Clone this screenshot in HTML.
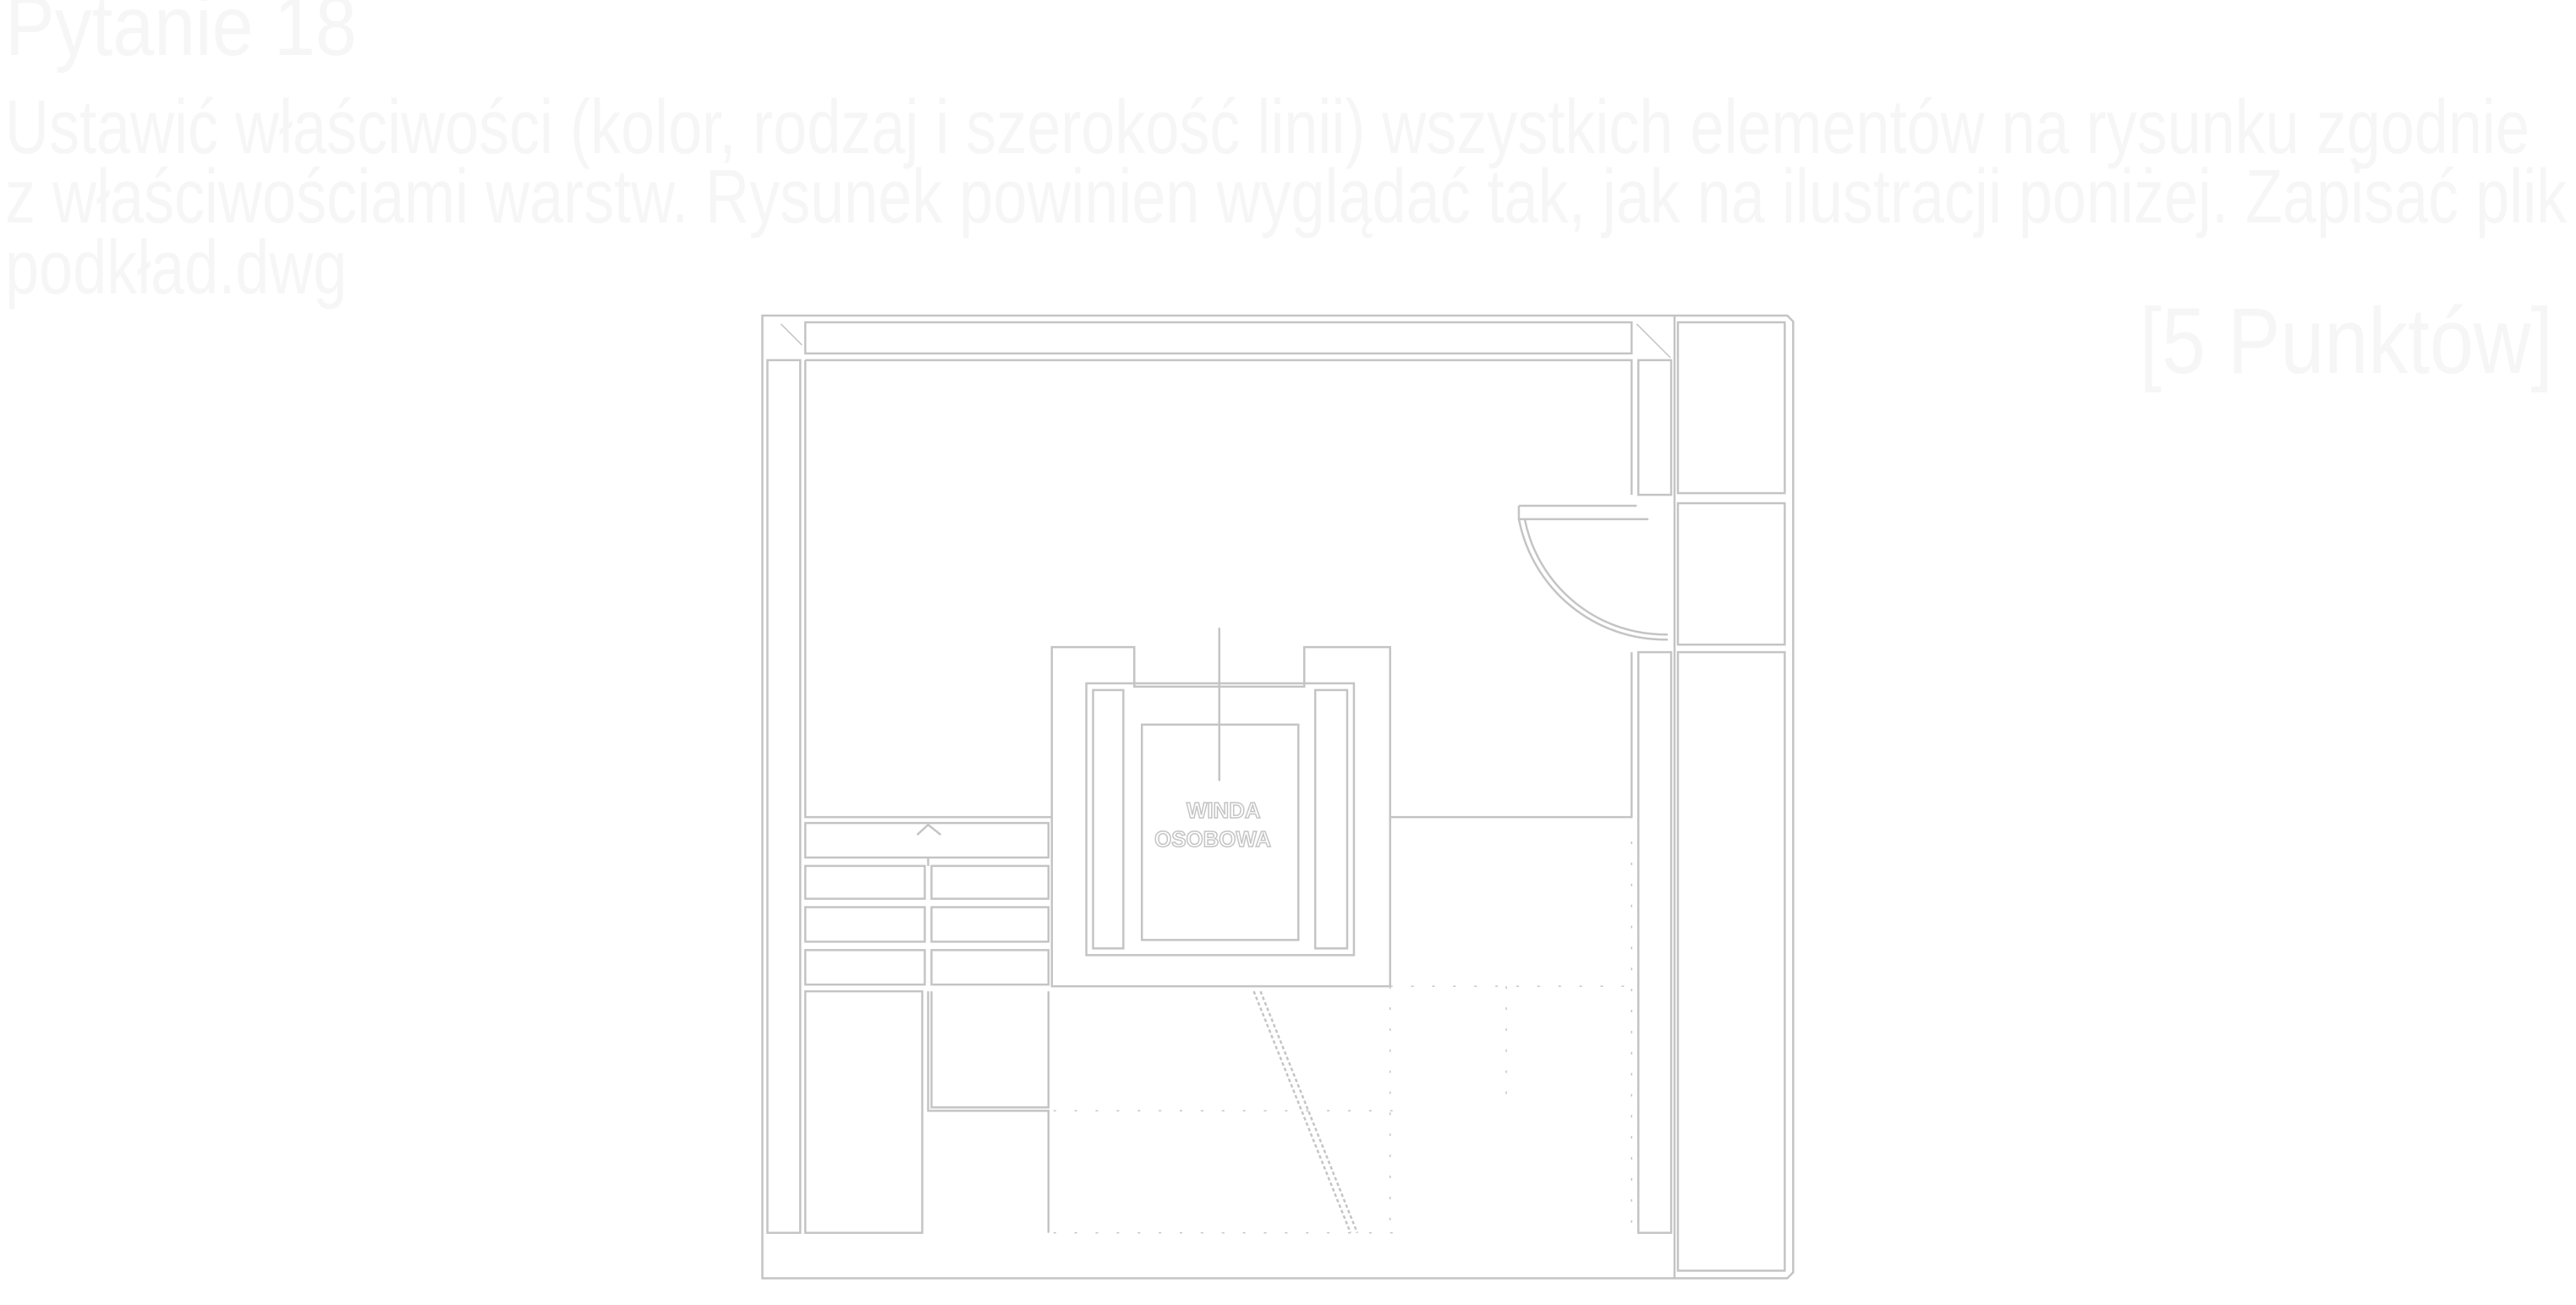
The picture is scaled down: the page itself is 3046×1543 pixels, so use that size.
<!DOCTYPE html>
<html><head><meta charset="utf-8"><style>
html,body{margin:0;padding:0;background:#fff;width:3046px;height:1543px;overflow:hidden}
.t{position:absolute;left:6px;font-family:"Liberation Sans Narrow","Liberation Sans",sans-serif;color:#f6f6f6;white-space:nowrap;transform-origin:0 0}
svg{position:absolute;left:0;top:0}
</style></head><body>
<div class="t" style="top:-26px;font-size:100px;transform:scaleX(.88)">Pytanie 18</div>
<div class="t" style="top:100px;font-size:90px;transform:scaleX(.8)">Ustawić właściwości (kolor, rodzaj i szerokość linii) wszystkich elementów na rysunku zgodnie</div>
<div class="t" style="top:182px;font-size:90px;transform:scaleX(.8)">z właściwościami warstw. Rysunek powinien wyglądać tak, jak na ilustracji poniżej. Zapisać plik</div>
<div class="t" style="top:266px;font-size:90px;transform:scaleX(.8)">podkład.dwg</div>
<div class="t" style="left:2530px;top:340px;font-size:110px;transform:scaleX(.85)">[5 Punktów]</div>
<svg width="3046" height="1543" viewBox="0 0 3046 1543" fill="none" stroke="#c4c4c4" stroke-width="2.5">
<g transform="scale(0.995)">
<rect x="906" y="375" width="1084" height="1144"/>
<rect x="957" y="383" width="982" height="37"/>
<rect x="912" y="428" width="39" height="1037"/>
<path d="M957 428 H1939 V588 M957 428 V971 H1250 M1652 971 H1939 V775"/>
<rect x="1947" y="428" width="39" height="160"/>
<rect x="1947" y="775" width="39" height="690"/>
<rect x="1994" y="383" width="127" height="203"/>
<rect x="1994" y="598" width="127" height="168"/>
<rect x="1994" y="775" width="127" height="735"/>
<path d="M1990 375 H2124 L2131 382 V1512 L2124 1519 H1990"/>
<path d="M1805 601 H1945 M1805 601 V617 H1959"/>
<path d="M1805 617 A177 177 0 0 0 1982 760 M1812 617 A170 170 0 0 0 1982 754"/>
<path d="M1250 1172 V769 H1348 V816 H1550 V769 H1652 V1172 Z"/>
<rect x="1291" y="812" width="318" height="323"/>
<rect x="1299" y="820" width="36" height="307"/>
<rect x="1563" y="820" width="38" height="307"/>
<path d="M1357 1117 V861 H1543 V1117 Z"/>
<path d="M1449 746 V928"/>
<rect x="957" y="978" width="289" height="41"/>
<rect x="957" y="1029" width="142" height="39"/><rect x="1107" y="1029" width="139" height="39"/>
<rect x="957" y="1078" width="142" height="41"/><rect x="1107" y="1078" width="139" height="41"/>
<rect x="957" y="1129" width="142" height="41"/><rect x="1107" y="1129" width="139" height="41"/>
<rect x="957" y="1178" width="139" height="287"/>
<path d="M1103 1019 V1029 M1103 1178 V1320 H1246 V1465 M1107 1178 V1316 H1246 V1178"/>
<path d="M1090 992 L1103 980 L1118 992"/>
<path d="M1490 1178 L1605 1465 M1498 1178 L1613 1465" stroke-dasharray="4 3"/>
<path d="M1252 1172 H1940 M1252 1320 H1660 M1790 1172 V1320 M1939 1000 V1465 M1652 1172 V1465 M1252 1465 H1660" stroke-dasharray="3 22" stroke-width="1.5"/>
<path d="M928 385 L953 410 M1945 385 L1985 425" stroke-width="1.5"/>
<text x="1410" y="972" font-family="Liberation Sans" font-size="26" font-weight="bold" fill="#fff" stroke="#c4c4c4" stroke-width="1.5">WINDA</text>
<text x="1372" y="1006" font-family="Liberation Sans" font-size="26" font-weight="bold" fill="#fff" stroke="#c4c4c4" stroke-width="1.5">OSOBOWA</text>
</g>
</svg>
</body></html>
